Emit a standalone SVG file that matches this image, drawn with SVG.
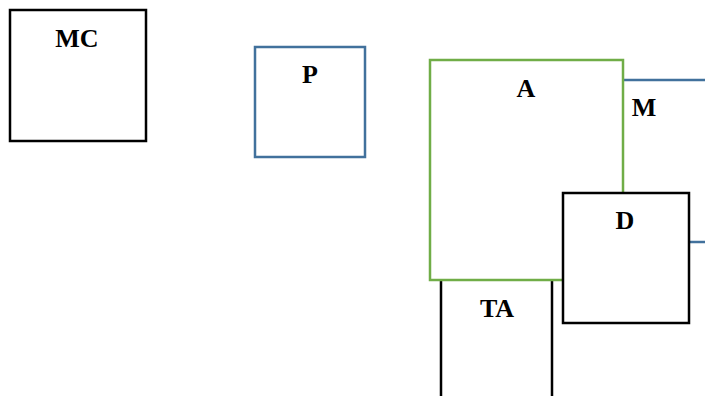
<svg xmlns="http://www.w3.org/2000/svg" width="705" height="396" viewBox="0 0 705 396">
<style>
.box{fill:#fff;stroke-width:2.5}
.k{stroke:#000}
.b{stroke:#41719c}
.g{stroke:#70ad47}
text{font-family:'Liberation Serif','Times New Roman',serif;font-weight:700;font-size:26px;fill:#000;text-anchor:middle}
</style>
<rect width="705" height="396" fill="#fff"/>
<g id="connectors"></g>
<g id="MC"><rect class="box k" x="10" y="10" width="136" height="131"/><text x="77" y="47">MC</text></g>
<g id="P"><rect class="box b" x="255" y="47" width="110" height="110"/><text x="310" y="83">P</text></g>
<g id="M"><rect class="box b" x="520" y="80" width="300" height="162"/><text x="644" y="116">M</text></g>
<g id="TA"><rect class="box k" x="441" y="260" width="111" height="200"/><text x="497" y="317">TA</text></g>
<g id="A"><rect class="box g" x="430" y="60" width="193" height="220"/><text x="526" y="97">A</text></g>
<g id="D"><rect class="box k" x="563" y="193" width="126" height="130"/><text x="625" y="229">D</text></g>
</svg>
